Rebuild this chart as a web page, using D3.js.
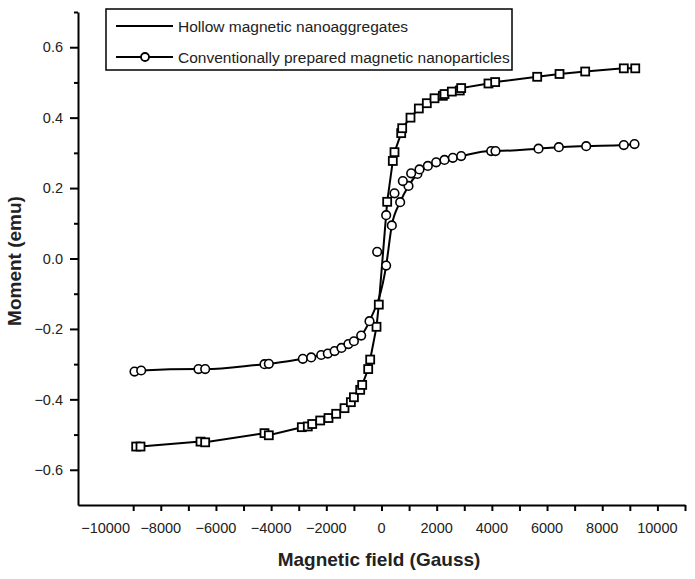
<!DOCTYPE html>
<html>
<head>
<meta charset="utf-8">
<script src="https://cdn.jsdelivr.net/npm/d3@7"></script>
<style>
  html, body { margin: 0; padding: 0; background: #fff; }
  svg { display: block; font-family: "Liberation Sans", Arial, sans-serif; }
</style>
</head>
<body>
<svg id="chart" width="695" height="579"></svg>
<script>
// ---------- data (field in Gauss, moment in emu) ----------
const squareField = [-8891, -8735, -6560, -6391, -4241, -4084, -2888, -2671, -2512, -2222, -1921, -1643, -1341, -1110, -1000, -772, -700, -482, -410, -181, -98,
  206, 410, 471, 714, 750, 1051, 1353, 1643, 1921, 2223, 2283, 2549, 2838, 2888, 3878, 4120, 5643, 6452, 7383, 8782, 9197];
const squareMoment = [-0.534, -0.534, -0.520, -0.522, -0.496, -0.502, -0.479, -0.477, -0.470, -0.460, -0.453, -0.441, -0.425, -0.408, -0.394, -0.373, -0.359, -0.314, -0.287, -0.194, -0.131,
  0.161, 0.277, 0.302, 0.356, 0.370, 0.400, 0.426, 0.441, 0.455, 0.462, 0.467, 0.474, 0.477, 0.484, 0.497, 0.501, 0.516, 0.524, 0.531, 0.540, 0.540];

const circleField = [-8952, -8710, -6633, -6390, -4241, -4084, -2852, -2548, -2186, -1946, -1700, -1450, -1200, -1000, -736, -435, 169, 374, 676, 978, 1300,
  1679, 1981, 2283, 2585, 2888, 3975, 4132, 5690, 6427, 7419, 8782, 9170];
const circleMoment = [-0.321, -0.318, -0.314, -0.314, -0.300, -0.299, -0.285, -0.281, -0.274, -0.270, -0.263, -0.254, -0.243, -0.235, -0.219, -0.178, -0.020, 0.094, 0.160, 0.206, 0.240,
  0.263, 0.273, 0.280, 0.286, 0.291, 0.305, 0.305, 0.312, 0.316, 0.319, 0.322, 0.325];

// circles of the second branch near zero field (no connecting line)
const branchField = [-157, 169, 471, 773, 1075, 1377];
const branchMoment = [0.019, 0.123, 0.185, 0.220, 0.242, 0.253];

const xTickValues = d3.range(-11000, 11001, 1000);
const xLabelValues = [-10000, -8000, -6000, -4000, -2000, 0, 2000, 4000, 6000, 8000, 10000];
const yTickValues = [-0.7, -0.6, -0.5, -0.4, -0.3, -0.2, -0.1, 0.0, 0.1, 0.2, 0.3, 0.4, 0.5, 0.6, 0.7];
const yLabelValues = [-0.6, -0.4, -0.2, 0.0, 0.2, 0.4, 0.6];

const legendLabels = ["Hollow magnetic nanoaggregates", "Conventionally prepared magnetic nanoparticles"];
const xTitle = "Magnetic field (Gauss)";
const yTitle = "Moment (emu)";

// ---------- layout ----------
const svg = d3.select("#chart");
const x = d3.scaleLinear().domain([-11000, 11000]).range([78, 685]);
const y = d3.scaleLinear().domain([-0.7, 0.7]).range([505, 12]);

const squares = squareField.map((f, i) => ({ f, m: squareMoment[i] }));
const circles = circleField.map((f, i) => ({ f, m: circleMoment[i] }));
const branch = branchField.map((f, i) => ({ f, m: branchMoment[i] }));

const fmtMinus = s => s.replace("-", "\u2212");

// x axis
const xAxisG = svg.append("g").attr("transform", `translate(0,${y(-0.7)})`);
xAxisG.call(d3.axisBottom(x).tickValues(xTickValues).tickSize(6).tickSizeOuter(0).tickFormat(""));
xAxisG.select(".domain").attr("stroke", "#000").attr("stroke-width", 2);
xAxisG.selectAll(".tick line").attr("stroke", "#000").attr("stroke-width", 2);
xAxisG.selectAll(".tick").filter(d => d === -11000).remove();
xAxisG.selectAll(".tick").filter(d => d === -10000).select("line").remove();
svg.append("g").selectAll("text").data(xLabelValues).join("text")
  .attr("x", d => x(d)).attr("y", 533)
  .attr("text-anchor", "middle").attr("font-size", 14.5).attr("fill", "#222")
  .text(d => fmtMinus(String(d)));

// y axis
const yAxisG = svg.append("g").attr("transform", `translate(${x(-11000)},0)`);
yAxisG.call(d3.axisLeft(y).tickValues(yTickValues).tickSize(4).tickSizeOuter(0).tickFormat(""));
yAxisG.select(".domain").attr("stroke", "#000").attr("stroke-width", 2);
yAxisG.selectAll(".tick line").attr("stroke", "#000").attr("stroke-width", 2)
  .attr("x2", d => yLabelValues.some(v => Math.abs(v - d) < 1e-9) ? -8 : -4);
yAxisG.selectAll(".tick").filter(d => Math.abs(d + 0.7) < 1e-9).remove();
svg.append("g").selectAll("text").data(yLabelValues).join("text")
  .attr("x", 63).attr("y", d => y(d)).attr("dy", "0.36em")
  .attr("text-anchor", "end").attr("font-size", 14.5).attr("fill", "#222")
  .text(d => fmtMinus(d.toFixed(1)));

// titles
svg.append("text").attr("x", 379).attr("y", 566).attr("text-anchor", "middle")
  .attr("font-size", 19).attr("font-weight", "bold").attr("fill", "#222").text(xTitle);
svg.append("text").attr("transform", "translate(21,261) rotate(-90)").attr("text-anchor", "middle")
  .attr("font-size", 19).attr("font-weight", "bold").attr("fill", "#222").text(yTitle);

// lines
svg.append("path").datum(squares).attr("d", d3.line().x(d => x(d.f)).y(d => y(d.m)).curve(d3.curveLinear))
  .attr("fill", "none").attr("stroke", "#000").attr("stroke-width", 2);
svg.append("path").datum(circles).attr("d", d3.line().x(d => x(d.f)).y(d => y(d.m)).curve(d3.curveMonotoneX))
  .attr("fill", "none").attr("stroke", "#000").attr("stroke-width", 2);

// markers
const sq = 8;
svg.append("g").selectAll("rect").data(squares).join("rect")
  .attr("x", d => x(d.f) - sq / 2).attr("y", d => y(d.m) - sq / 2)
  .attr("width", sq).attr("height", sq)
  .attr("fill", "#fff").attr("stroke", "#000").attr("stroke-width", 1.8);
svg.append("g").selectAll("circle").data(circles.concat(branch)).join("circle")
  .attr("cx", d => x(d.f)).attr("cy", d => y(d.m)).attr("r", 4.3)
  .attr("fill", "#fff").attr("stroke", "#000").attr("stroke-width", 1.6);

// legend
const lg = svg.append("g");
lg.append("rect").attr("x", 106).attr("y", 9).attr("width", 406).attr("height", 61)
  .attr("fill", "#fff").attr("stroke", "#000").attr("stroke-width", 1.5);
const rowsY = [26, 57];
legendLabels.forEach((t, i) => {
  lg.append("line").attr("x1", 116).attr("x2", 173).attr("y1", rowsY[i]).attr("y2", rowsY[i])
    .attr("stroke", "#000").attr("stroke-width", 2);
  if (i === 1) {
    lg.append("circle").attr("cx", 145).attr("cy", rowsY[i]).attr("r", 4)
      .attr("fill", "#fff").attr("stroke", "#000").attr("stroke-width", 1.8);
  }
  lg.append("text").attr("x", 178).attr("y", rowsY[i]).attr("dy", "0.36em")
    .attr("font-size", 15.5).attr("fill", "#222").text(t);
});
</script>
</body>
</html>
